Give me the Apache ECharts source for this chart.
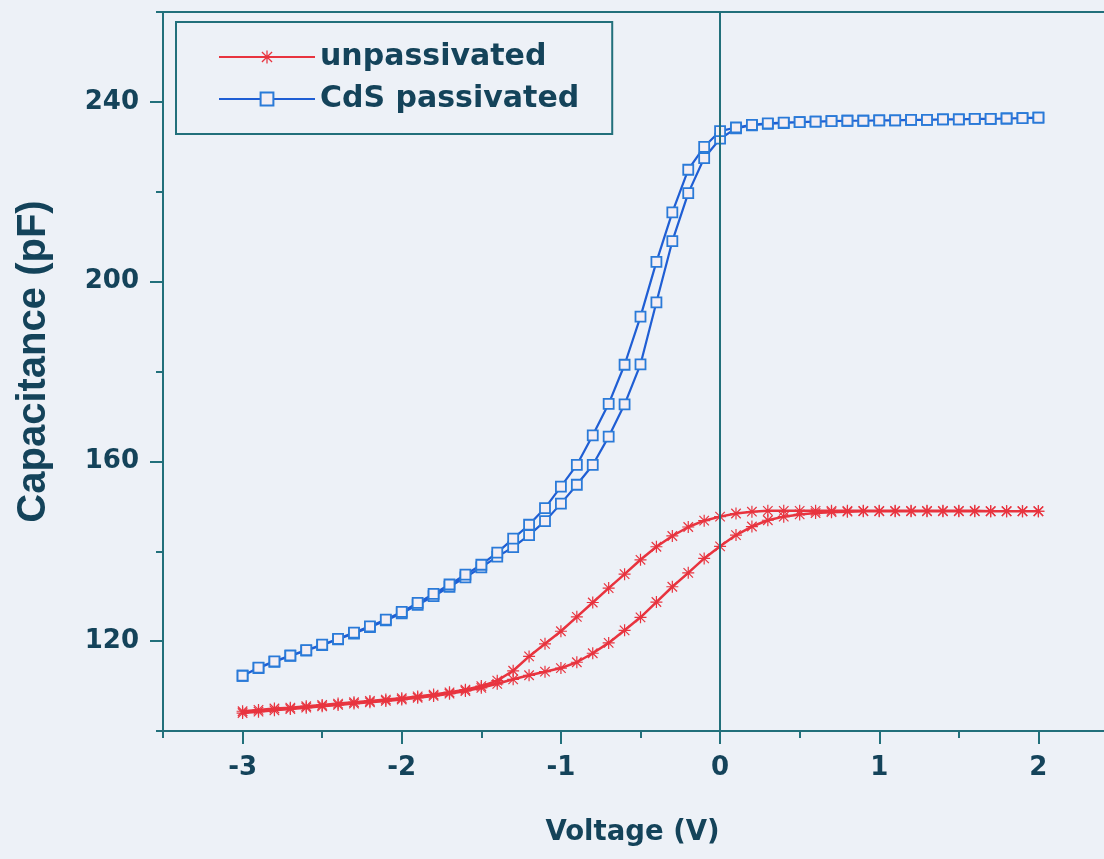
<!DOCTYPE html>
<html>
<head>
<meta charset="utf-8">
<script src="https://cdn.jsdelivr.net/npm/echarts@6/dist/echarts.min.js"></script>
<style>
html, body { margin: 0; padding: 0; background: #edf1f7; }
#main { width: 1104px; height: 859px; }
</style>
</head>
<body>
<div id="main"></div>
<script>
// bias voltage (V), one sample every 0.1 V
var volts = [-3.0, -2.9, -2.8, -2.7, -2.6, -2.5, -2.4, -2.3, -2.2, -2.1,
	-2.0, -1.9, -1.8, -1.7, -1.6, -1.5, -1.4, -1.3, -1.2, -1.1,
	-1.0, -0.9, -0.8, -0.7, -0.6, -0.5, -0.4, -0.3, -0.2, -0.1,
	0.0, 0.1, 0.2, 0.3, 0.4, 0.5, 0.6, 0.7, 0.8, 0.9,
	1.0, 1.1, 1.2, 1.3, 1.4, 1.5, 1.6, 1.7, 1.8, 1.9, 2.0];

// unpassivated, two sweep directions (pF)
var redForward = [104.0, 104.3, 104.6, 104.9, 105.2, 105.5, 105.8, 106.1, 106.4, 106.7,
	107.0, 107.4, 107.8, 108.3, 108.9, 109.6, 110.5, 111.5, 112.4, 113.2,
	114.0, 115.3, 117.3, 119.6, 122.4, 125.3, 128.7, 132.1, 135.2, 138.4,
	141.1, 143.6, 145.5, 146.9, 147.7, 148.2, 148.5, 148.7, 148.8, 148.9,
	148.9, 148.9, 148.9, 148.9, 148.9, 148.9, 148.9, 148.9, 148.9, 148.9, 148.9];
var redReverse = [104.4, 104.7, 105.0, 105.2, 105.5, 105.8, 106.1, 106.4, 106.7, 107.0,
	107.3, 107.7, 108.1, 108.6, 109.2, 110.0, 111.2, 113.4, 116.6, 119.4,
	122.2, 125.4, 128.6, 131.8, 134.9, 138.1, 141.0, 143.4, 145.4, 146.8,
	147.7, 148.4, 148.8, 149.0, 149.0, 149.0, 149.0, 149.0, 149.0, 149.0,
	149.0, 149.0, 149.0, 149.0, 149.0, 149.0, 149.0, 148.9, 148.9, 148.9, 148.9];

// CdS passivated, two sweep directions (pF)
var blueForward = [112.3, 114.0, 115.4, 116.7, 117.9, 119.1, 120.4, 121.7, 123.1, 124.6,
	126.2, 128.1, 130.0, 132.1, 134.2, 136.4, 138.8, 140.9, 143.6, 146.7,
	150.6, 154.8, 159.2, 165.5, 172.7, 181.6, 195.4, 209.0, 219.7, 227.5,
	231.8, 234.1, 234.8, 235.1, 235.3, 235.5, 235.6, 235.7, 235.8, 235.8,
	235.9, 235.9, 236.0, 236.0, 236.1, 236.1, 236.2, 236.2, 236.3, 236.4, 236.5];
var blueReverse = [112.3, 114.1, 115.5, 116.8, 118.0, 119.2, 120.5, 121.9, 123.3, 124.8,
	126.5, 128.5, 130.5, 132.6, 134.8, 137.0, 139.7, 142.8, 145.9, 149.6,
	154.4, 159.2, 165.8, 172.8, 181.5, 192.2, 204.4, 215.4, 224.9, 230.0,
	233.5, 234.3, 234.9, 235.2, 235.4, 235.5, 235.6, 235.7, 235.8, 235.8,
	235.9, 235.9, 236.0, 236.0, 236.1, 236.1, 236.2, 236.2, 236.3, 236.4, 236.5];

var xMajor = [-3, -2, -1, 0, 1, 2];
var yMajor = [120, 160, 200, 240];

var axisColor = '#22707b';
var textColor = '#14435a';
var starPath = 'path://M9,0L11,0L11,20L9,20Z M0,9L20,9L20,11L0,11Z M1.4,2.8L2.8,1.4L18.6,17.2L17.2,18.6Z M17.2,1.4L18.6,2.8L2.8,18.6L1.4,17.2Z';

// forward sweep then back again, as one loop per sample
function loop(fwd, rev) {
	var pts = [];
	for (var i = 0; i < volts.length; i++) pts.push([volts[i], fwd[i]]);
	for (var j = volts.length - 1; j >= 0; j--) pts.push([volts[j], rev[j]]);
	return pts;
}

var myChart = echarts.init(document.getElementById('main'));

myChart.setOption({
	backgroundColor : '#edf1f7',
	animation : false,
	grid : {
		left : 163,
		top : 12,
		width : 955,
		bottom : 128,
		outerBoundsMode : 'none',
		containLabel : false,
		show : true,
		borderColor : axisColor,
		borderWidth : 2,
		backgroundColor : 'transparent'
	},
	legend : {
		orient : 'vertical',
		left : 176,
		top : 22,
		padding : [ 20, 33, 20, 42 ],
		itemGap : 12,
		itemWidth : 96,
		itemHeight : 16,
		borderColor : axisColor,
		borderWidth : 2,
		textStyle : {
			fontFamily : 'DejaVu Sans',
			fontWeight : 'bold',
			fontSize : 30,
			color : textColor
		},
		data : [ 'unpassivated', 'CdS passivated' ]
	},
	xAxis : [ {
		type : 'value',
		min : -3.5,
		max : 2.5,
		interval : 0.5,
		axisLine : { onZero : false, lineStyle : { color : axisColor, width : 2 } },
		axisTick : { length : 7, lineStyle : { color : axisColor, width : 2 } },
		axisLabel : { show : false },
		splitLine : { show : false },
		name : 'Voltage (V)',
		nameLocation : 'middle',
		nameGap : 88,
		nameTextStyle : {
			fontFamily : 'DejaVu Sans',
			fontWeight : 'bold',
			fontSize : 27.5,
			color : textColor,
			padding : [ 0, 16, 0, 0 ]
		}
	}, {
		type : 'value',
		position : 'bottom',
		min : -3.5,
		max : 2.5,
		interval : 0.5,
		axisLine : { show : false, onZero : false },
		axisTick : { customValues : xMajor, length : 13, lineStyle : { color : axisColor, width : 2 } },
		axisLabel : {
			customValues : xMajor,
			margin : 24,
			fontFamily : 'DejaVu Sans',
			fontWeight : 'bold',
			fontSize : 26,
			color : textColor
		},
		splitLine : { show : false }
	} ],
	yAxis : [ {
		type : 'value',
		position : 'left',
		min : 100,
		max : 260,
		interval : 20,
		axisLine : { show : true, onZero : false, lineStyle : { color : axisColor, width : 2 } },
		axisTick : { show : true, length : 7, lineStyle : { color : axisColor, width : 2 } },
		axisLabel : { show : false },
		splitLine : { show : false },
		name : 'Capacitance (pF)',
		nameLocation : 'middle',
		nameGap : 109,
		nameTextStyle : {
			fontFamily : 'Liberation Sans',
			fontWeight : 'bold',
			fontSize : 40,
			color : textColor,
			padding : [ 0, 0, 0, 20 ]
		}
	}, {
		type : 'value',
		position : 'left',
		min : 100,
		max : 260,
		interval : 20,
		axisLine : { show : false, onZero : false },
		axisTick : { show : true, customValues : yMajor, length : 13, lineStyle : { color : axisColor, width : 2 } },
		axisLabel : {
			customValues : yMajor,
			margin : 24,
			fontFamily : 'DejaVu Sans',
			fontWeight : 'bold',
			fontSize : 26,
			color : textColor
		},
		splitLine : { show : false }
	} ],
	series : [ {
		name : 'unpassivated',
		type : 'line',
		data : loop(redForward, redReverse),
		symbol : starPath,
		symbolSize : 12,
		showAllSymbol : true,
		lineStyle : { color : '#e8343f', width : 2.5 },
		itemStyle : { color : '#e8343f' },
		markLine : {
			silent : true,
			symbol : 'none',
			label : { show : false },
			lineStyle : { color : axisColor, width : 2, type : 'solid' },
			data : [ { xAxis : 0 } ]
		}
	}, {
		name : 'CdS passivated',
		type : 'line',
		data : loop(blueForward, blueReverse),
		symbol : 'rect',
		symbolSize : 10,
		showAllSymbol : true,
		lineStyle : { color : '#1f5ed4', width : 2.2 },
		itemStyle : { color : '#f3eef4', borderColor : '#2a7ad8', borderWidth : 1.8 }
	} ]
});
</script>
</body>
</html>
